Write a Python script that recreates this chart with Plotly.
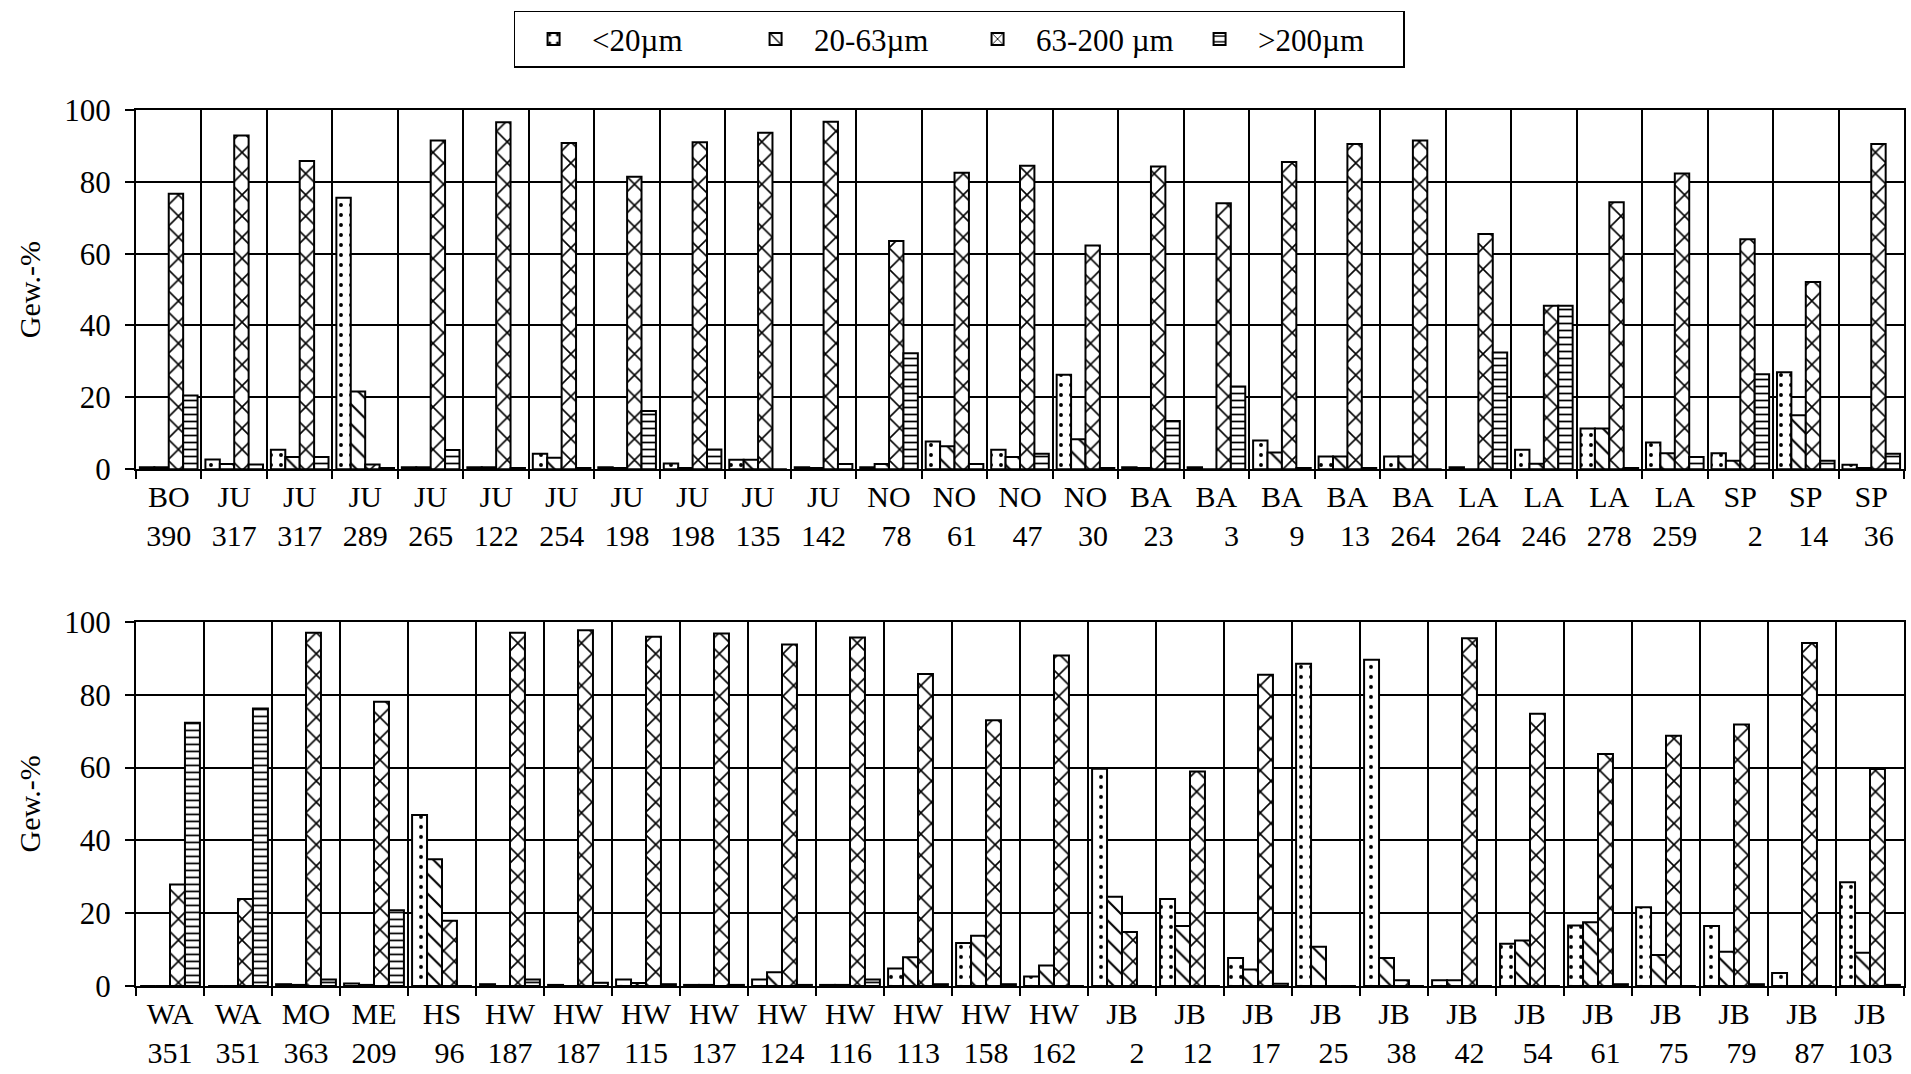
import plotly.graph_objects as go

# ---------------- data ----------------
series_names = ["<20µm", "20-63µm", "63-200 µm", ">200µm"]

top_sites = ["BO", "JU", "JU", "JU", "JU", "JU", "JU", "JU", "JU", "JU", "JU",
             "NO", "NO", "NO", "NO", "BA", "BA", "BA", "BA", "BA",
             "LA", "LA", "LA", "LA", "SP", "SP", "SP"]
top_nums = [390, 317, 317, 289, 265, 122, 254, 198, 198, 135, 142,
            78, 61, 47, 30, 23, 3, 9, 13, 264,
            264, 246, 278, 259, 2, 14, 36]

top_lt20 = [0.5, 2.7, 5.4, 75.6, 0.5, 0.5, 4.3, 0.5, 1.6, 2.6, 0.5,
            0.5, 7.7, 5.4, 26.3, 0.5, 0.5, 8.0, 3.5, 3.5,
            0.5, 5.4, 11.3, 7.4, 4.4, 27.0, 1.2]
top_20_63 = [0.5, 1.4, 3.4, 21.6, 0.5, 0.5, 3.2, 0.3, 0.3, 2.6, 0.3,
             1.4, 6.4, 3.4, 8.3, 0.3, 0.0, 4.6, 3.5, 3.5,
             0.0, 1.5, 11.3, 4.4, 2.3, 15.0, 0.3]
top_63_200 = [76.7, 92.9, 85.8, 1.3, 91.5, 96.6, 90.8, 81.4, 91.0, 93.7, 96.7,
              63.5, 82.5, 84.5, 62.3, 84.3, 74.0, 85.5, 90.5, 91.5,
              65.5, 45.5, 74.3, 82.3, 64.0, 52.1, 90.5]
top_gt200 = [20.5, 1.3, 3.4, 0.3, 5.3, 0.3, 0.3, 16.2, 5.5, 0.0, 1.4,
             32.3, 1.4, 4.3, 0.3, 13.4, 23.0, 0.3, 0.3, 0.0,
             32.5, 45.5, 0.3, 3.4, 26.4, 2.3, 4.3]

bot_sites = ["WA", "WA", "MO", "ME", "HS", "HW", "HW", "HW", "HW", "HW", "HW", "HW", "HW", "HW",
             "JB", "JB", "JB", "JB", "JB", "JB", "JB", "JB", "JB", "JB", "JB", "JB"]
bot_nums = [351, 351, 363, 209, 96, 187, 187, 115, 137, 124, 116, 113, 158, 162,
            2, 12, 17, 25, 38, 42, 54, 61, 75, 79, 87, 103]

bot_lt20 = [0.0, 0.0, 0.5, 0.7, 47.0, 0.5, 0.3, 1.8, 0.3, 1.8, 0.3, 4.8, 11.8, 2.6,
            59.7, 23.9, 7.7, 88.5, 89.6, 1.6, 11.6, 16.6, 21.6, 16.5, 3.6, 28.5]
bot_20_63 = [0.0, 0.0, 0.3, 0.3, 34.8, 0.0, 0.0, 0.8, 0.3, 3.8, 0.3, 7.9, 13.8, 5.6,
             24.5, 16.5, 4.5, 10.8, 7.7, 1.6, 12.5, 17.5, 8.5, 9.4, 0.0, 9.1]
bot_63_200 = [27.9, 23.9, 97.0, 78.1, 17.9, 97.0, 97.7, 95.9, 96.8, 93.8, 95.7, 85.7, 73.0, 90.8,
              14.8, 58.9, 85.5, 0.0, 1.6, 95.5, 74.8, 63.7, 68.7, 71.8, 94.2, 59.6]
bot_gt200 = [72.3, 76.2, 1.8, 20.8, 0.0, 1.8, 0.9, 0.5, 0.3, 0.3, 1.8, 0.5, 0.5, 0.0,
             0.0, 0.0, 0.6, 0.0, 0.0, 0.0, 0.0, 0.5, 0.0, 0.5, 0.0, 0.3]

y_ticks = [0, 20, 40, 60, 80, 100]
y_title = "Gew.-%"

# ---------------- styling ----------------
FONT = "Liberation Serif, Times New Roman, serif"
patterns = [
    dict(shape=".", size=10, solidity=0.12),
    dict(shape="\\", size=14, solidity=0.15),
    dict(shape="x", size=15, solidity=0.2),
    dict(shape="-", size=7, solidity=0.25),
]

def make_labels(sites, nums):
    return [f"{s}<br>{str(n).rjust(3, chr(0x2007))}" for s, n in zip(sites, nums)]

def make_keys(prefix, sites):
    return [f"{prefix}{i}" for i in range(len(sites))]

fig = go.Figure()

top_keys = make_keys("t", top_sites)
bot_keys = make_keys("b", bot_sites)
top_series = [top_lt20, top_20_63, top_63_200, top_gt200]
bot_series = [bot_lt20, bot_20_63, bot_63_200, bot_gt200]

def marker_for(i):
    p = patterns[i]
    return dict(color="white", line=dict(color="black", width=2),
                pattern=dict(shape=p["shape"], size=p["size"], solidity=p["solidity"],
                             fgcolor="black", bgcolor="white", fillmode="replace"))

for i, name in enumerate(series_names):
    fig.add_trace(go.Bar(x=top_keys, y=top_series[i], name=name, legendgroup=name,
                         xaxis="x", yaxis="y", marker=marker_for(i)))
for i, name in enumerate(series_names):
    fig.add_trace(go.Bar(x=bot_keys, y=bot_series[i], name=name, legendgroup=name,
                         showlegend=False, xaxis="x2", yaxis="y2", marker=marker_for(i)))

W, H = 1911, 1074
ML, MR, MT, MB = 136, 5, 110, 81
ph = H - MT - MB
top_dom = [(993 - 472) / ph, 1.0]
bot_dom = [0.0, (993 - 626) / ph]

xcommon = dict(type="category", tickson="boundaries", showgrid=True, gridcolor="black",
               gridwidth=1.5, showline=True, linecolor="black", linewidth=2, mirror=True,
               ticks="outside", ticklen=8, tickwidth=1.5, tickcolor="black",
               tickfont=dict(family=FONT, size=30, color="black"), tickangle=0)
ycommon = dict(range=[0, 100], tickvals=y_ticks, showgrid=True, gridcolor="black",
               gridwidth=1.5, showline=True, linecolor="black", linewidth=2, mirror=True,
               ticks="outside", ticklen=9, tickwidth=1.5, tickcolor="black",
               ticklabelstandoff=8,
               tickfont=dict(family=FONT, size=31, color="black"), zeroline=False,
               title=dict(text=y_title, font=dict(family=FONT, size=30, color="black"), standoff=15))

fig.update_layout(
    width=W, height=H,
    margin=dict(l=ML, r=MR, t=MT, b=MB),
    paper_bgcolor="white", plot_bgcolor="white",
    font=dict(family=FONT, color="black"),
    barmode="group", bargap=0.12, bargroupgap=0.0,
    xaxis=dict(domain=[0, 1], anchor="y", tickvals=top_keys,
               ticktext=make_labels(top_sites, top_nums), **xcommon),
    yaxis=dict(domain=top_dom, anchor="x", **ycommon),
    xaxis2=dict(domain=[0, 1], anchor="y2", tickvals=bot_keys,
                ticktext=make_labels(bot_sites, bot_nums), **xcommon),
    yaxis2=dict(domain=bot_dom, anchor="x2", **ycommon),
    legend=dict(orientation="h", x=(514 - ML) / (W - ML - MR), xanchor="left",
                y=1 + (MT - 10) / ph, yanchor="top",
                bordercolor="black", borderwidth=1.5, bgcolor="white",
                font=dict(family=FONT, size=31, color="black"),
                itemwidth=67, entrywidth=140, traceorder="normal"),
)

fig.write_html("out.html", include_plotlyjs=True, config={"displayModeBar": False},
               post_script="document.body.style.margin='0';document.body.style.overflow='hidden';")
